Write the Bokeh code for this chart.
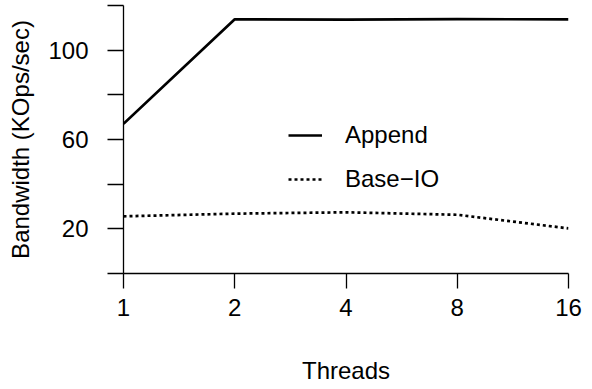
from bokeh.plotting import figure
from bokeh.models import Range1d, FixedTicker, Legend, LegendItem
from bokeh.embed import file_html
from bokeh.resources import INLINE

threads = [1, 2, 4, 8, 16]
append_vals = [67.0, 113.8, 113.7, 113.9, 113.8]
baseio_vals = [25.6, 26.8, 27.4, 26.3, 20.2]
x_tick_labels = ["1", "2", "4", "8", "16"]
y_ticks = [0, 20, 40, 60, 80, 100, 120]
y_labeled = [20, 60, 100]

FONT = "Liberation Sans"
FS = "24px"

p = figure(width=592, height=389, x_axis_type="log",
           x_range=Range1d(1, 16), y_range=Range1d(0, 120),
           output_backend="svg", toolbar_location=None,
           min_border_left=123, min_border_right=24,
           min_border_top=5, min_border_bottom=116)
p.outline_line_color = None
p.grid.visible = False
p.background_fill_color = "white"
p.border_fill_color = "white"

r1 = p.line(threads, append_vals, line_color="black", line_width=2.7)
r2 = p.line(threads, baseio_vals, line_color="black", line_width=2.7,
            line_dash="3 3")

for ax in (p.xaxis[0], p.yaxis[0]):
    ax.axis_line_width = 1.3
    ax.major_tick_line_width = 1.3
    ax.major_tick_in = 0
    ax.minor_tick_line_color = None
    ax.major_label_text_font = FONT
    ax.major_label_text_font_size = FS
    ax.major_label_text_color = "black"
    ax.axis_label_text_font = FONT
    ax.axis_label_text_font_size = FS
    ax.axis_label_text_font_style = "normal"
    ax.axis_label_text_color = "black"

xa = p.xaxis[0]
xa.ticker = FixedTicker(ticks=threads)
xa.major_label_overrides = {t: l for t, l in zip(threads, x_tick_labels)}
xa.major_tick_out = 15
xa.major_label_standoff = 10
xa.axis_label = "Threads"
xa.axis_label_standoff = 38

ya = p.yaxis[0]
ya.ticker = FixedTicker(ticks=y_ticks)
ya.major_label_overrides = {t: (str(t) if t in y_labeled else "") for t in y_ticks}
ya.major_tick_out = 16
ya.major_label_standoff = 19
ya.major_label_orientation = "horizontal"
ya.axis_label = "Bandwidth (KOps/sec)"
ya.axis_label_standoff = 11

legend = Legend(items=[LegendItem(label="Append", renderers=[r1]),
                       LegendItem(label="Base\u2212IO", renderers=[r2])],
                location=(165, 80))
legend.glyph_width = 34
legend.glyph_height = 20
legend.label_standoff = 23
legend.spacing = 16
legend.padding = 0
legend.margin = 0
legend.border_line_color = None
legend.background_fill_alpha = 0
legend.label_text_font = FONT
legend.label_text_font_size = FS
legend.label_text_color = "black"
p.add_layout(legend, "center")

open("out.html", "w").write(file_html(p, INLINE))
